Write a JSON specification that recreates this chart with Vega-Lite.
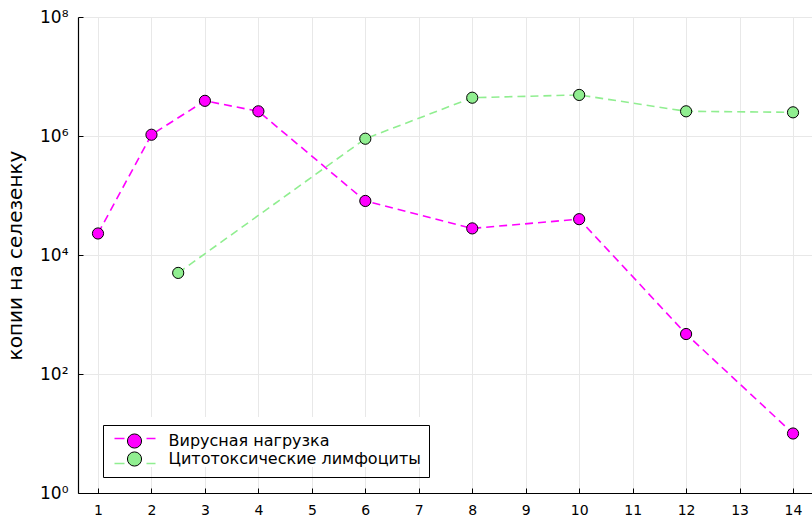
{
  "$schema": "https://vega.github.io/schema/vega-lite/v6.json",
  "width": 734,
  "height": 476,
  "autosize": {"type": "none"},
  "padding": {"left": 78, "top": 17, "right": 0, "bottom": 25},
  "background": "white",
  "config": {
    "font": "DejaVu Sans",
    "view": {"stroke": null},
    "axis": {
      "domainColor": "black",
      "domainWidth": 1.2,
      "tickColor": "black",
      "tickSize": -5,
      "gridColor": "#e8e8e8",
      "gridWidth": 1,
      "labelColor": "black",
      "titleColor": "black",
      "labelFont": "DejaVu Sans",
      "titleFont": "DejaVu Sans",
      "titleFontWeight": "normal"
    }
  },
  "data": {
    "values": [
      {"series": "Вирусная нагрузка", "day": 1, "copies": 23000},
      {"series": "Вирусная нагрузка", "day": 2, "copies": 1050000},
      {"series": "Вирусная нагрузка", "day": 3, "copies": 3900000},
      {"series": "Вирусная нагрузка", "day": 4, "copies": 2600000},
      {"series": "Вирусная нагрузка", "day": 6, "copies": 81000},
      {"series": "Вирусная нагрузка", "day": 8, "copies": 28000},
      {"series": "Вирусная нагрузка", "day": 10, "copies": 40000},
      {"series": "Вирусная нагрузка", "day": 12, "copies": 470},
      {"series": "Вирусная нагрузка", "day": 14, "copies": 10},
      {"series": "Цитотоксические лимфоциты", "day": 2.5, "copies": 5000},
      {"series": "Цитотоксические лимфоциты", "day": 6, "copies": 900000},
      {"series": "Цитотоксические лимфоциты", "day": 8, "copies": 4400000},
      {"series": "Цитотоксические лимфоциты", "day": 10, "copies": 4900000},
      {"series": "Цитотоксические лимфоциты", "day": 12, "copies": 2600000},
      {"series": "Цитотоксические лимфоциты", "day": 14, "copies": 2500000}
    ]
  },
  "encoding": {
    "x": {
      "field": "day",
      "type": "quantitative",
      "scale": {"domain": [0.626, 14.355], "nice": false, "zero": false},
      "axis": {
        "title": null,
        "values": [1, 2, 3, 4, 5, 6, 7, 8, 9, 10, 11, 12, 13, 14],
        "labelFontSize": 14,
        "labelPadding": 15
      }
    },
    "y": {
      "field": "copies",
      "type": "quantitative",
      "scale": {"type": "log", "domain": [1, 100000000], "nice": false},
      "axis": {
        "title": "копии на селезенку",
        "titleFontSize": 20,
        "titlePadding": 14,
        "values": [1, 100, 10000, 1000000, 100000000],
        "labelExpr": "'10' + ['⁰','¹','²','³','⁴','⁵','⁶','⁷','⁸'][round(log(datum.value) / LN10)]",
        "labelFontSize": 17,
        "labelPadding": 15
      }
    }
  },
  "layer": [
    {
      "mark": {"type": "line", "strokeDash": [8, 5], "strokeWidth": 1.6},
      "encoding": {
        "stroke": {
          "field": "series",
          "type": "nominal",
          "scale": {"range": ["#ff00ff", "#90ee90"]},
          "legend": {
            "title": null,
            "orient": "none",
            "legendX": 35.5,
            "legendY": 400,
            "symbolType": "stroke",
            "symbolSize": 1681,
            "symbolStrokeWidth": 1.6,
            "symbolDash": [10, 22, 9],
            "labelOpacity": 0,
            "labelFontSize": 1,
            "labelOffset": 284,
            "rowPadding": -28,
            "padding": 0,
            "fillColor": "white"
          }
        }
      }
    },
    {
      "mark": {"type": "point", "filled": true, "size": 125, "stroke": "black", "strokeWidth": 1, "opacity": 1},
      "encoding": {
        "fill": {
          "field": "series",
          "type": "nominal",
          "scale": {
            "domain": ["Вирусная нагрузка", "Цитотоксические лимфоциты"],
            "range": ["#ff00ff", "#90ee90"]
          },
          "legend": {
            "title": null,
            "orient": "none",
            "legendX": 25,
            "legendY": 408,
            "symbolType": "circle",
            "symbolSize": 200,
            "symbolOffset": 15.5,
            "symbolStrokeColor": "black",
            "symbolStrokeWidth": 1,
            "symbolOpacity": 1,
            "labelFontSize": 16,
            "labelColor": "black",
            "labelLimit": 400,
            "labelOffset": 26,
            "rowPadding": -3,
            "padding": 8,
            "strokeColor": "black"
          }
        }
      }
    }
  ]
}
